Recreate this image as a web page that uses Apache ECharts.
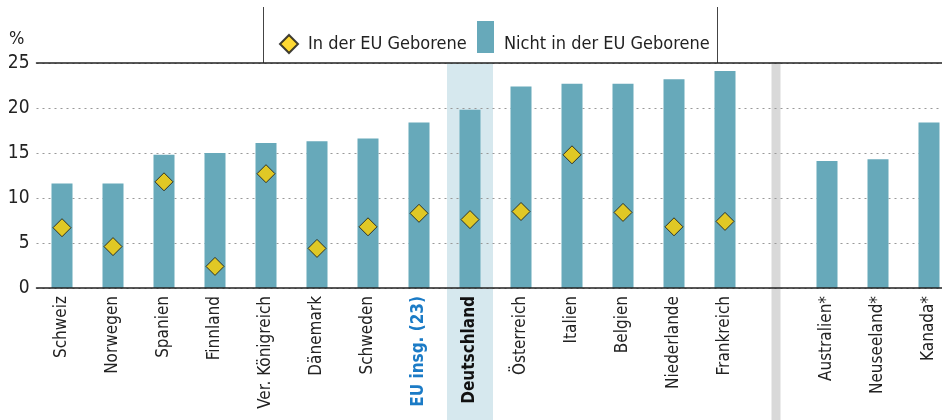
<!DOCTYPE html>
<html>
<head>
<meta charset="utf-8">
<script src="https://cdn.jsdelivr.net/npm/echarts@6/dist/echarts.min.js"></script>
<style>
    html, body { margin: 0; padding: 0; background: #fff; }
    #chart { width: 942px; height: 420px; }
</style>
</head>
<body>
<div id="chart"></div>
<script>
// Kategorien (leerer Eintrag = Trenner vor den Nicht-EU-Ländern)
var categories = ['Schweiz', 'Norwegen', 'Spanien', 'Finnland', 'Ver. Königreich', 'Dänemark', 'Schweden',
    'EU insg. (23)', 'Deutschland', 'Österreich', 'Italien', 'Belgien', 'Niederlande', 'Frankreich',
    '', 'Australien*', 'Neuseeland*', 'Kanada*'];
// Nicht in der EU Geborene (%)
var nichtEU = [11.6, 11.6, 14.8, 15.0, 16.1, 16.3, 16.6, 18.4, 19.8, 22.4, 22.7, 22.7, 23.2, 24.1,
    null, 14.1, 14.3, 18.4];
// In der EU Geborene (%)
var inEU = [6.7, 4.6, 11.8, 2.4, 12.7, 4.4, 6.8, 8.3, 7.6, 8.5, 14.8, 8.4, 6.8, 7.4,
    null, null, null, null];
var yTicks = [0, 5, 10, 15, 20, 25];
// Hervorhebung Deutschland und grauer Trenner
var bands = [[8, 'hl'], [14, 'sep']];

var font = '"Liberation Sans Narrow", "DejaVu Sans Condensed", sans-serif';
var chart = echarts.init(document.getElementById('chart'));

var option = {
    animation: false,
    textStyle: { fontFamily: font },
    // Raster ragt rechts etwas über den Rand hinaus (wie im Original)
    grid: { left: 36.5, width: 918, top: 63, bottom: 132, containLabel: false, outerBoundsMode: 'none' },
    legend: [{
        data: ['In der EU Geborene'],
        left: 279, top: 34, padding: 0,
        itemWidth: 18, itemHeight: 18,
        textStyle: { fontFamily: font, fontSize: 18, color: '#222', padding: [0, 0, 0, 5] }
    }, {
        data: ['Nicht in der EU Geborene'],
        left: 477, top: 21, padding: 0,
        itemWidth: 17, itemHeight: 32,
        icon: 'rect',
        formatter: '{t|{name}}',
        textStyle: {
            fontFamily: font, fontSize: 18, color: '#222',
            rich: { t: { fontFamily: font, fontSize: 18, color: '#222', padding: [15, 0, 0, 5] } }
        }
    }],
    graphic: [
        { type: 'line', shape: { x1: 263.5, y1: 7, x2: 263.5, y2: 63 }, style: { stroke: '#444', lineWidth: 1 } },
        { type: 'line', shape: { x1: 717.5, y1: 7, x2: 717.5, y2: 63 }, style: { stroke: '#444', lineWidth: 1 } }
    ],
    xAxis: [{
        type: 'category',
        data: categories,
        z: 5,
        axisLine: { lineStyle: { color: '#222', width: 1.5 } },
        axisTick: { show: false },
        axisLabel: {
            rotate: 90,
            interval: 0,
            margin: 8,
            fontFamily: font,
            fontSize: 17,
            color: '#222',
            formatter: function (v) {
                if (v === 'EU insg. (23)') return '{eu|' + v + '}';
                if (v === 'Deutschland') return '{de|' + v + '}';
                return v;
            },
            rich: {
                eu: { fontFamily: font, fontSize: 17, fontWeight: 'bold', color: '#1b7bc6' },
                de: { fontFamily: font, fontSize: 17, fontWeight: 'bold', color: '#111' }
            }
        }
    }, {
        type: 'category',
        data: categories,
        position: 'top',
        z: 5,
        axisLine: { lineStyle: { color: '#222', width: 1.5 } },
        axisTick: { show: false },
        axisLabel: { show: false }
    }],
    yAxis: {
        type: 'value',
        min: yTicks[0],
        max: yTicks[yTicks.length - 1],
        interval: 5,
        name: '%',
        nameLocation: 'end',
        nameGap: 15,
        nameTextStyle: { fontFamily: font, fontSize: 18, color: '#222', align: 'right', padding: [0, 12, 0, 0] },
        axisLine: { show: false },
        axisTick: { show: false },
        axisLabel: { fontFamily: font, fontSize: 19, color: '#222', margin: 7 },
        splitLine: {
            show: true,
            lineStyle: { color: '#999', type: [2, 4], width: 1 }
        }
    },
    series: [{
        type: 'custom',
        z: -1,
        silent: true,
        clip: false,
        data: bands,
        renderItem: function (params, api) {
            var idx = api.value(0);
            var p = api.coord([idx, 25]);
            var isHl = bands[params.dataIndex][1] === 'hl';
            var w = isHl ? 46 : 9;
            var top = isHl ? p[1] : p[1] - 1;
            return {
                type: 'rect',
                shape: { x: p[0] - w / 2, y: top, width: w, height: 420 - top },
                style: { fill: isHl ? '#d6e8ee' : '#d9d9d9' }
            };
        }
    }, {
        name: 'Nicht in der EU Geborene',
        type: 'bar',
        data: nichtEU,
        barWidth: 21,
        itemStyle: { color: '#67a9ba' }
    }, {
        name: 'In der EU Geborene',
        type: 'scatter',
        data: inEU,
        symbol: 'diamond',
        symbolSize: 18,
        z: 4,
        itemStyle: { color: '#ffd000', borderColor: '#111', borderWidth: 1 }
    }]
};

chart.setOption(option);
</script>
</body>
</html>
